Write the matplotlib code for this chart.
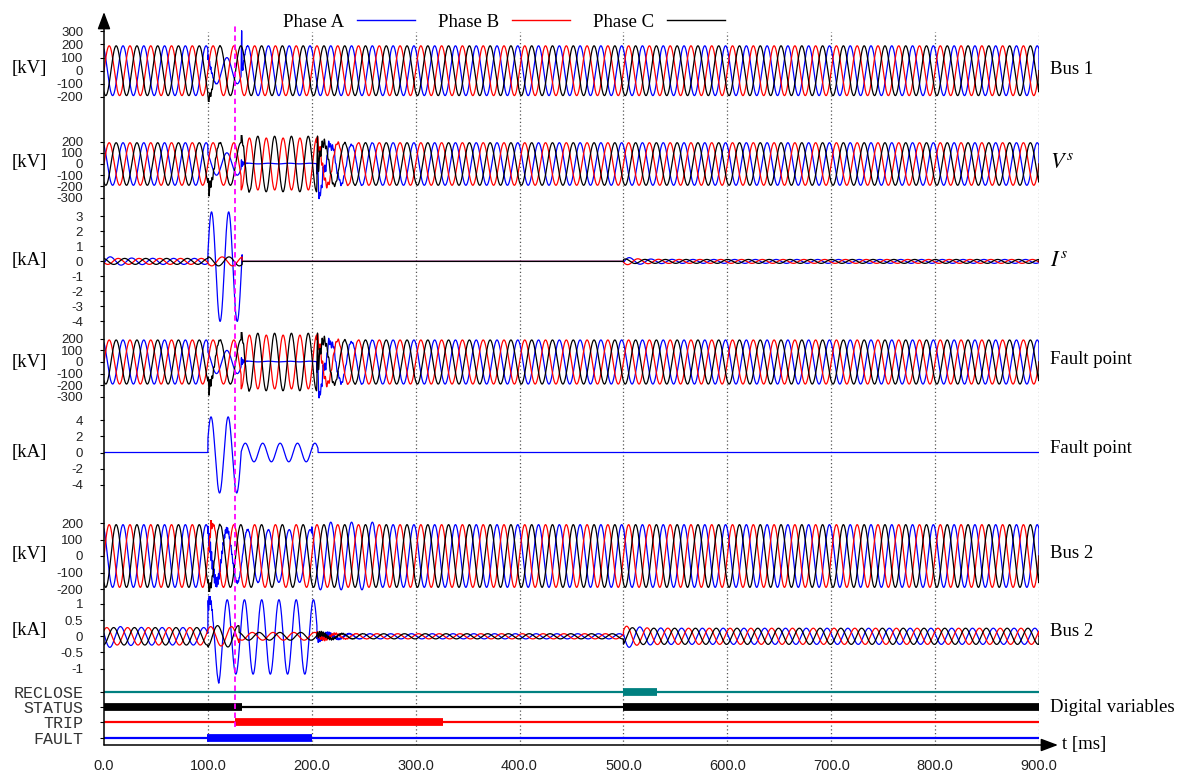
import numpy as np
import matplotlib.pyplot as plt
from matplotlib.lines import Line2D

plt.rcParams['mathtext.fontset'] = 'stix'

# time axis [ms]
time_ticks = [0, 100, 200, 300, 400, 500, 600, 700, 800, 900]
trip_marker = 126

phases = ['A', 'B', 'C']
phase_colors = {'A': 'blue', 'B': 'red', 'C': 'black'}
legend_labels = ['Phase A', 'Phase B', 'Phase C']

# digital channels, intervals where the signal is 1
digital_names = ['RECLOSE', 'STATUS', 'TRIP', 'FAULT']
digital_colors = ['#008080', 'black', 'red', 'blue']
digital_on = [[(500, 532)], [(0, 133), (500, 900)], [(126, 326)], [(99, 200)]]

# waveform pieces:
# (start ms, end ms, amplitude, period ms, time of a positive peak ms[, offset])
# rings: (start ms, amplitude, decay ms, period ms)  spikes: (time ms, value, half width ms)
bus1_kv = {
    'A': [(0, 100, 190, 20, 18.3), (100, 132, 100, 20, 18.3), (132, 900, 190, 20, 18.3)],
    'B': [(0, 900, 190, 20, 5.0)],
    'C': [(0, 900, 190, 20, 11.7)],
}
bus1_kv_rings = {'A': [(100, 40, 3, 1.3), (132, 50, 2, 1.0)], 'C': [(100, 35, 4, 1.6)]}
bus1_kv_spikes = {'A': [(132.5, 305, 0.6)], 'C': [(100.5, -235, 0.8)]}

vs_kv = {
    'A': [(0, 100, 190, 20, 18.3), (100, 132, 100, 20, 18.3), (132, 205, 3, 20, 18.3, 4),
          (205, 245, 175, 20, 18.3), (245, 900, 190, 20, 18.3)],
    'B': [(0, 132, 190, 20, 5.0), (132, 205, 232, 16.2, 140), (205, 900, 190, 20, 5.0)],
    'C': [(0, 132, 190, 20, 11.7), (132, 205, 248, 16.2, 148), (205, 900, 190, 20, 11.7)],
}
vs_kv_rings = {'A': [(132, 40, 2, 1.2), (205, 110, 10, 5), (205, 60, 15, 1.8)],
               'B': [(205, 60, 12, 2.5)],
               'C': [(100, 60, 5, 1.7), (132, 40, 4, 2.0), (205, 70, 10, 2.2)]}
vs_kv_spikes = {'A': [(207, -310, 1.0)], 'C': [(101, -280, 0.8), (205.5, 250, 0.8)]}

is_ka = {
    'A': [(0, 100, 0.2, 20, 7), (100, 133, 3.65, 16.5, 103.5, -0.35), (500, 900, 0.13, 20, 7)],
    'B': [(0, 100, 0.2, 20, 13.7), (100, 133, 0.3, 20, 13.7), (500, 900, 0.13, 20, 13.7)],
    'C': [(0, 100, 0.2, 20, 0.3), (100, 133, 0.3, 20, 0.3), (500, 900, 0.13, 20, 0.3)],
}
is_ka_rings = {'A': [(0, 0.18, 15, 20), (500, 0.2, 15, 20)],
               'B': [(500, -0.12, 15, 20)],
               'C': [(0, -0.1, 15, 20), (500, 0.1, 12, 20)]}
is_ka_spikes = {}

fault_ka = {
    'A': [(100, 132, 4.7, 16.5, 103, -0.3), (132, 206, 1.15, 16.75, 136)],
}

bus2_kv = {
    'A': [(0, 100, 190, 20, 18.3), (100, 200, 160, 20, 18.3), (200, 260, 205, 20, 18.3),
          (260, 900, 190, 20, 18.3)],
    'B': [(0, 900, 190, 20, 5.0)],
    'C': [(0, 900, 190, 20, 11.7)],
}
bus2_kv_rings = {'A': [(100, 50, 15, 1.1), (500, 12, 3, 1.5)],
                 'B': [(100, 30, 4, 1.4)], 'C': [(100, 40, 5, 1.8)]}
bus2_kv_spikes = {'C': [(101, -240, 0.8)], 'B': [(103, 230, 0.6)]}

bus2_ka = {
    'A': [(0, 100, 0.27, 20, 16), (100, 205, 1.15, 16.6, 102, -0.02), (205, 500, 0.08, 20, 16),
          (500, 900, 0.25, 20, 16)],
    'B': [(0, 100, 0.27, 20, 2.7), (100, 130, 0.3, 20, 2.7), (130, 205, 0.12, 20, 2.7),
          (205, 500, 0.08, 20, 2.7), (500, 900, 0.25, 20, 2.7)],
    'C': [(0, 100, 0.27, 20, 9.3), (100, 130, 0.33, 20, 9.3), (130, 205, 0.12, 20, 9.3),
          (205, 500, 0.08, 20, 9.3), (500, 900, 0.25, 20, 9.3)],
}
bus2_ka_rings = {'A': [(0, -0.12, 12, 20), (100, 0.25, 3, 1.0), (205, 0.12, 15, 1.6), (500, -0.15, 12, 20)],
                 'B': [(205, 0.1, 15, 2.0), (500, 0.1, 12, 20)],
                 'C': [(205, 0.1, 15, 1.8), (500, 0.12, 10, 20)]}
bus2_ka_spikes = {'A': [(110.5, -1.45, 3)]}

t = np.arange(0, 900.01, 0.05)


def trace(segs, rings=(), spikes=()):
    y = np.zeros_like(t)
    for seg in segs:
        t0, t1, amp, per, tpk = seg[:5]
        off = seg[5] if len(seg) > 5 else 0.0
        m = (t >= t0) & (t < t1)
        y[m] = off + amp * np.cos(2 * np.pi * (t[m] - tpk) / per)
    for t0, amp, tau, per in rings:
        m = t >= t0
        y[m] += amp * np.exp(-(t[m] - t0) / tau) * np.sin(2 * np.pi * (t[m] - t0) / per)
    for ts, val, hw in spikes:
        k = np.abs(t - ts) < hw
        base = np.interp(ts, t, y)
        y[k] += (val - base) * (1 - np.abs(t[k] - ts) / hw)
    return y


kv_ticks = [-200, -100, 0, 100, 200, 300]
kv_ticks2 = [-300, -200, -100, 0, 100, 200]
panels = [
    # data, rings, spikes, ticks, unit, right label, zero row px, px per unit, ylim
    (bus1_kv, bus1_kv_rings, bus1_kv_spikes, kv_ticks, '[kV]', 'Bus 1', 70.7, 0.131, (-240, 320)),
    (vs_kv, vs_kv_rings, vs_kv_spikes, kv_ticks2, '[kV]', '$V^s$', 164, 0.112, (-320, 260)),
    (is_ka, is_ka_rings, is_ka_spikes, [-4, -3, -2, -1, 0, 1, 2, 3], '[kA]', '$I^s$', 261.4, 15.0, (-4.6, 3.7)),
    (vs_kv, vs_kv_rings, vs_kv_spikes, kv_ticks2, '[kV]', 'Fault point', 362, 0.116, (-320, 260)),
    (fault_ka, {}, {}, [-4, -2, 0, 2, 4], '[kA]', 'Fault point', 452.5, 8.1, (-5.6, 5.2)),
    (bus2_kv, bus2_kv_rings, bus2_kv_spikes, [-200, -100, 0, 100, 200], '[kV]', 'Bus 2', 556, 0.165, (-220, 220)),
    (bus2_ka, bus2_ka_rings, bus2_ka_spikes, [-1, -0.5, 0, 0.5, 1], '[kA]', 'Bus 2', 636.3, 32.35, (-1.6, 1.25)),
]
unit_rows = [69, 163, 261, 362, 452, 554, 631]
label_rows = [70, 163, 262, 360, 448, 553, 631]

W, H = 1184, 771
X0, X1 = 104, 1039
fig = plt.figure(figsize=(W / 100, H / 100), dpi=100)
serif = 'Liberation Serif'
sans = 'Liberation Sans'


def rect(top_px, bottom_px):
    return [X0 / W, 1 - bottom_px / H, (X1 - X0) / W, (bottom_px - top_px) / H]


# base axes: grid, time labels
AX_TOP, AX_BOT = 12, 745
base = fig.add_axes(rect(AX_TOP, AX_BOT))
base.set_xlim(0, 900)
base.set_ylim(0, 1)
for s in base.spines.values():
    s.set_visible(False)
base.set_yticks([])
base.set_xticks(time_ticks)
base.set_xticklabels(['%.1f' % v for v in time_ticks], family=sans, fontsize=10.5, color='#222222')
base.tick_params(axis='x', length=0, pad=10)
grid_top = (AX_BOT - 32) / (AX_BOT - AX_TOP)
for tx in time_ticks[1:]:
    base.axvline(tx, ymin=0, ymax=grid_top, color='#555555', ls=(0, (1, 2)), lw=0.9)

for i, (data, rings, spikes, ticks, unit, name, y0, s, lim) in enumerate(panels):
    ax = fig.add_axes(rect(y0 - lim[1] * s, y0 - lim[0] * s))
    ax.patch.set_visible(False)
    ax.set_xlim(0, 900)
    ax.set_ylim(*lim)
    for sp in ax.spines.values():
        sp.set_visible(False)
    ax.set_xticks([])
    ax.set_yticks(ticks)
    ax.set_yticklabels([('%g' % v) for v in ticks], family=sans, fontsize=9.5, color='#222222')
    ax.tick_params(axis='y', direction='out', length=3, width=0.8, pad=12)
    for ph in phases:
        if ph in data:
            y = trace(data[ph], rings.get(ph, ()), spikes.get(ph, ()))
            ax.plot(t, y, color=phase_colors[ph], lw=0.9)
    fig.text(12 / W, 1 - unit_rows[i] / H, unit, family=serif, fontsize=13.5, va='center', ha='left')
    fsize = 16 if name.startswith('$') else 13.5
    fig.text(1050 / W, 1 - label_rows[i] / H, name, family=serif, fontsize=fsize, va='center', ha='left')

# digital variables
dig_y0, dig_s = 737.5, 15.3
axd = fig.add_axes(rect(dig_y0 - 3.5 * dig_s, dig_y0 + 0.5 * dig_s))
axd.patch.set_visible(False)
axd.set_xlim(0, 900)
axd.set_ylim(-0.5, 3.5)
for sp in axd.spines.values():
    sp.set_visible(False)
axd.set_xticks([])
levels = [3, 2, 1, 0]
axd.set_yticks(levels)
axd.set_yticklabels(digital_names, family='Liberation Mono', fontsize=12, color='#333333')
axd.tick_params(axis='y', direction='out', length=3, width=0.8, pad=12)
for lev, col, spans in zip(levels, digital_colors, digital_on):
    axd.hlines(lev, 0, 900, color=col, lw=1.6)
    for a, b in spans:
        axd.hlines(lev, a, b, color=col, lw=5.6)
fig.text(1050 / W, 1 - 708 / H, 'Digital variables', family=serif, fontsize=13.5, va='center', ha='left')

# overlay: axes arrows, trip marker, legend
top = fig.add_axes(rect(AX_TOP, AX_BOT))
top.axis('off')
top.set_xlim(0, 900)
top.set_ylim(0, 1)
top.axvline(trip_marker, ymin=(AX_BOT - 727) / (AX_BOT - AX_TOP), ymax=(AX_BOT - 25) / (AX_BOT - AX_TOP),
            color='#ff00ff', ls=(0, (3, 2)), lw=1.3)
arrow = dict(arrowstyle='-|>,head_length=0.8,head_width=0.3', color='black', lw=1.1,
             mutation_scale=13, shrinkA=0, shrinkB=0)
top.annotate('', xy=(0, 1), xytext=(0, 0), xycoords='axes fraction', arrowprops=arrow)
top.annotate('', xy=((1058 - X0) / (X1 - X0), 0), xytext=(0, 0), xycoords='axes fraction', arrowprops=arrow)
fig.text(1062 / W, 1 - 745 / H, 't [ms]', family=serif, fontsize=13.5, va='center', ha='left')

handles = [Line2D([], [], color=phase_colors[p], lw=1.0) for p in phases]
fig.legend(handles, legend_labels, loc='center', bbox_to_anchor=(504 / W, 1 - 22 / H), ncol=3,
           frameon=False, markerfirst=False, handlelength=3.1, handletextpad=0.7, columnspacing=1.2,
           prop={'family': serif, 'size': 13.5})

fig.savefig('out.png', dpi=100)
